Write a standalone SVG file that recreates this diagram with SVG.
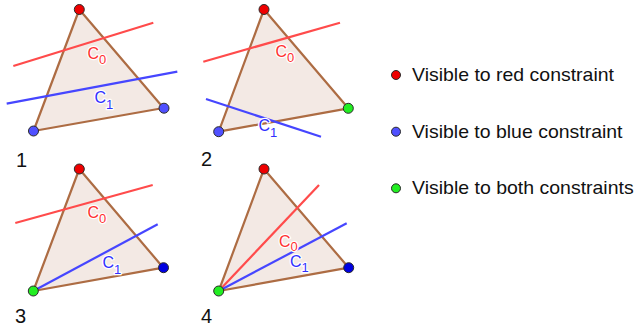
<svg xmlns="http://www.w3.org/2000/svg" width="637" height="333" viewBox="0 0 637 333">
<style>
.tri{fill:#f3e9e4;stroke:#ad6c43;stroke-width:2.2;stroke-linejoin:round}
.rl{stroke:#ff4b4b;stroke-width:2.2;fill:none}
.bl{stroke:#4646ff;stroke-width:2.2;fill:none}
.pt{stroke:#2a2a2a;stroke-width:1}
.red{fill:#ee0000}
.blu{fill:#5050ff}
.dblu{fill:#0000e0}
.grn{fill:#22ee22}
.lab{font-family:"Liberation Sans",Arial,sans-serif;font-size:16px;paint-order:stroke;stroke:#fff;stroke-width:2.5;stroke-linejoin:round}
.lab .s{font-size:13px}
.c0{fill:#ff3030}
.c1{fill:#3030ff}
.num{font-family:"Liberation Sans",Arial,sans-serif;font-size:20px;fill:#111}
.leg{font-family:"Liberation Sans",Arial,sans-serif;font-size:19px;fill:#111}
</style>
<g id="panel1">
<polygon class="tri" points="79.3,9.5 163.5,108 33.5,131"/>
<g id="connectors1">
<line class="rl" x1="13.3" y1="66" x2="153.3" y2="22.7"/>
<line class="bl" x1="6.7" y1="103.7" x2="177.3" y2="71.7"/>
</g>
<text class="lab c0" x="87.5" y="59">C<tspan class="s" dy="5">0</tspan></text>
<text class="lab c1" x="94.5" y="103">C<tspan class="s" dy="6">1</tspan></text>
<circle class="pt red" cx="79.3" cy="9.5" r="5"/>
<circle class="pt blu" cx="33.5" cy="131" r="5"/>
<circle class="pt blu" cx="164" cy="108.2" r="5"/>
<text class="num" x="16" y="167">1</text>
</g>
<g id="panel2">
<polygon class="tri" points="264,9.5 348.3,108.3 218.7,131.7"/>
<g id="connectors2">
<line class="rl" x1="203.3" y1="61.7" x2="340" y2="22.7"/>
<line class="bl" x1="206" y1="99" x2="321" y2="136.7"/>
</g>
<text class="lab c0" x="275.5" y="57">C<tspan class="s" dy="5">0</tspan></text>
<text class="lab c1" x="258.5" y="131">C<tspan class="s" dy="6">1</tspan></text>
<circle class="pt red" cx="264" cy="9.5" r="5"/>
<circle class="pt blu" cx="218.7" cy="131.7" r="5"/>
<circle class="pt grn" cx="348.3" cy="108.3" r="5"/>
<text class="num" x="201" y="166">2</text>
</g>
<g id="panel3">
<polygon class="tri" points="79.3,169 163.3,267.7 33.3,291"/>
<g id="connectors3">
<line class="rl" x1="15.3" y1="223" x2="152.7" y2="185"/>
<line class="bl" x1="33.3" y1="291" x2="157.7" y2="224.3"/>
</g>
<text class="lab c0" x="87.5" y="218">C<tspan class="s" dy="5">0</tspan></text>
<text class="lab c1" x="102.5" y="268">C<tspan class="s" dy="6">1</tspan></text>
<circle class="pt red" cx="79.3" cy="169" r="5"/>
<circle class="pt dblu" cx="163.5" cy="267.7" r="5"/>
<circle class="pt grn" cx="33.3" cy="291" r="5"/>
<text class="num" x="15" y="323">3</text>
</g>
<g id="panel4">
<polygon class="tri" points="264,169 348.7,267.7 218.7,291"/>
<g id="connectors4">
<line class="rl" x1="218.7" y1="291" x2="319" y2="185"/>
<line class="bl" x1="218.7" y1="291" x2="346.7" y2="223.3"/>
</g>
<text class="lab c0" x="279" y="247">C<tspan class="s" dy="4">0</tspan></text>
<text class="lab c1" x="290" y="267">C<tspan class="s" dy="5">1</tspan></text>
<circle class="pt red" cx="264" cy="169" r="5"/>
<circle class="pt dblu" cx="348.7" cy="267.7" r="5"/>
<circle class="pt grn" cx="218.7" cy="291" r="5"/>
<text class="num" x="201" y="323">4</text>
</g>
<g id="legend">
<g id="legend-red">
<circle class="pt red" cx="396" cy="75" r="4.5"/>
<text class="leg" x="412" y="81" textLength="202" lengthAdjust="spacingAndGlyphs">Visible to red constraint</text>
</g>
<g id="legend-blue">
<circle class="pt blu" cx="396" cy="131.7" r="4.5"/>
<text class="leg" x="412" y="137.7" textLength="210.5" lengthAdjust="spacingAndGlyphs">Visible to blue constraint</text>
</g>
<g id="legend-green">
<circle class="pt grn" cx="396" cy="188.3" r="4.5"/>
<text class="leg" x="412" y="194.3" textLength="221.7" lengthAdjust="spacingAndGlyphs">Visible to both constraints</text>
</g>
</g>
</svg>
